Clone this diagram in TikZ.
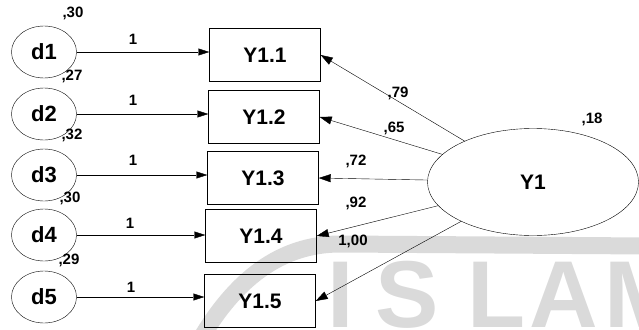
\documentclass[tikz,border=0pt]{standalone}
\usepackage{fontspec}
\setmainfont{Liberation Sans}
\usetikzlibrary{shapes.geometric,arrows.meta}
\usepackage{xcolor}
\definecolor{Wmark}{RGB}{218,218,218}
\newcommand{\lbl}[1]{{\fontsize{15}{15}\selectfont\bfseries #1}}
\tikzset{
  dnode/.style={ellipse,draw,thin,minimum width=65pt,minimum height=52pt,
                inner sep=0pt,font=\fontsize{22}{22}\selectfont\bfseries},
  ynode/.style={rectangle,draw,thin,minimum width=111pt,minimum height=53pt,
                inner sep=0pt,font=\fontsize{21}{21}\selectfont\bfseries},
  lvnode/.style={ellipse,draw,thin,minimum width=211pt,minimum height=107pt,
                inner sep=0pt,font=\fontsize{21}{21}\selectfont\bfseries},
  wlab/.style={inner sep=0pt},
  pedge/.style={-{Triangle[length=11pt,width=7pt]},thin},
  ledge/.style={-{Triangle[length=12pt,width=8pt]},thin},
  wmark/.style={Wmark,inner sep=0pt,anchor=base west,
                font=\fontsize{95}{95}\selectfont\bfseries},
}

\begin{document}
\begin{tikzpicture}[x=1pt,y=-1pt]
  \useasboundingbox (0,0) rectangle (639,329);
  \begin{scope}
    \clip (0,0) rectangle (639,329);
    \draw[Wmark,line width=17pt] (200,340) .. controls (235,280) and (280,244) .. (340,244) -- (650,246);
    \node[wmark] (wmI) at (327,327) {I};
    \node[wmark] (wmS) at (375,327) {S};
    \node[wmark] (wmL) at (467,327) {L};
    \node[wmark] (wmA) at (529,327) {A};
    \node[wmark] (wmM) at (604,327) {M};
  \end{scope}

  \node[dnode] (d1) at (44,52)  {d1};
  \node[dnode] (d2) at (44,114) {d2};
  \node[dnode] (d3) at (44,175) {d3};
  \node[dnode] (d4) at (44,235) {d4};
  \node[dnode] (d5) at (44,297) {d5};

  \node[ynode] (y11) at (265,55)  {Y1.1};
  \node[ynode] (y12) at (264,117) {Y1.2};
  \node[ynode] (y13) at (263,178) {Y1.3};
  \node[ynode] (y14) at (261,236) {Y1.4};
  \node[ynode] (y15) at (260,301) {Y1.5};

  \node[lvnode] (Y1) at (533,182) {Y1};

  \draw[pedge] (d1) -- (d1 -| y11.west);
  \draw[pedge] (d2) -- (d2 -| y12.west);
  \draw[pedge] (d3) -- (d3 -| y13.west);
  \draw[pedge] (d4) -- (d4 -| y14.west);
  \draw[pedge] (d5) -- (d5 -| y15.west);

  \draw[ledge] (Y1) -- (y11.east);
  \draw[ledge] (Y1) -- (y12.east);
  \draw[ledge] (Y1) -- (y13.east);
  \draw[ledge] (Y1) -- (y14.east);
  \draw[ledge] (Y1) -- (y15.east);

  \node[wlab] (v1) at (73,13)  {\lbl{,30}};
  \node[wlab] (v2) at (72,76)  {\lbl{,27}};
  \node[wlab] (v3) at (72,135) {\lbl{,32}};
  \node[wlab] (v4) at (70,198) {\lbl{,30}};
  \node[wlab] (v5) at (69,260) {\lbl{,29}};

  \node[wlab] (w1) at (133,39)  {\lbl{1}};
  \node[wlab] (w2) at (133,100) {\lbl{1}};
  \node[wlab] (w3) at (133,160) {\lbl{1}};
  \node[wlab] (w4) at (130,223) {\lbl{1}};
  \node[wlab] (w5) at (131,287) {\lbl{1}};

  \node[wlab] (l1) at (398,93)  {\lbl{,79}};
  \node[wlab] (l2) at (394,128) {\lbl{,65}};
  \node[wlab] (l3) at (356,161) {\lbl{,72}};
  \node[wlab] (l4) at (356,203) {\lbl{,92}};
  \node[wlab] (l5) at (353,241) {\lbl{1,00}};
  \node[wlab] (r1) at (592,119) {\lbl{,18}};
\end{tikzpicture}
\end{document}
